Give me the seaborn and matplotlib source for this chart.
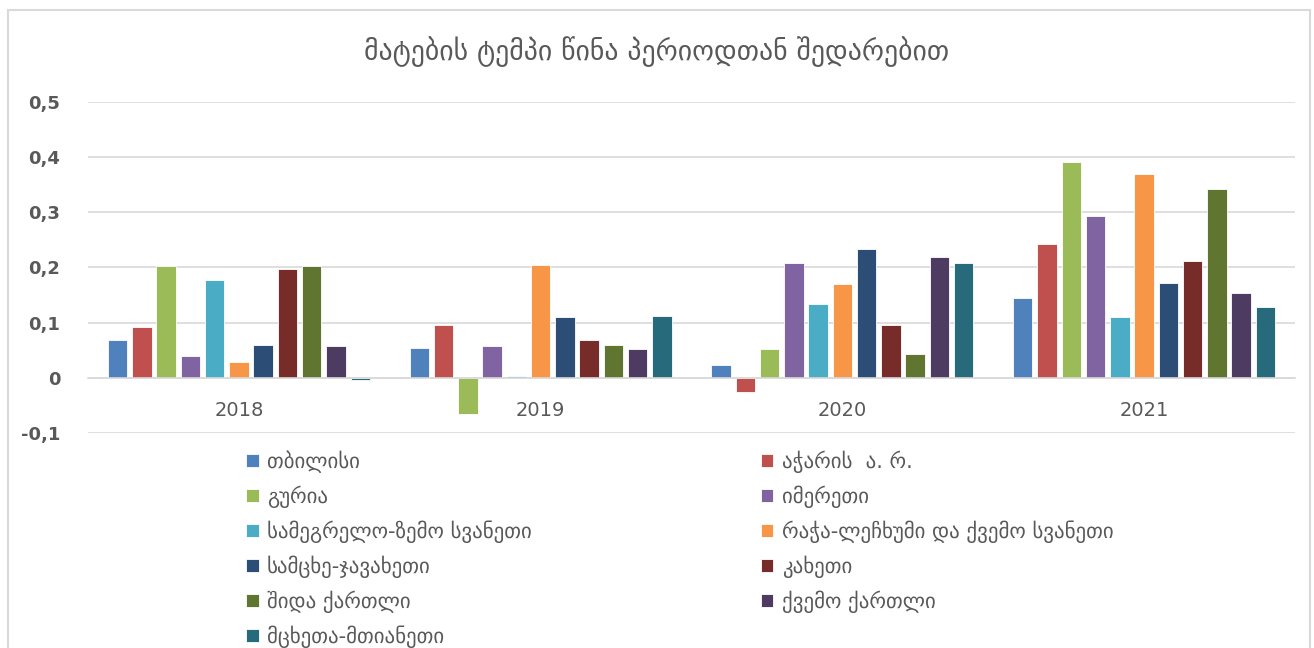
import pandas as pd
import matplotlib.pyplot as plt
import seaborn as sns
from matplotlib.patches import Rectangle

# Data
years = ["2018", "2019", "2020", "2021"]
regions = [
    "თბილისი",
    "აჭარის  ა. რ.",
    "გურია",
    "იმერეთი",
    "სამეგრელო-ზემო სვანეთი",
    "რაჭა-ლეჩხუმი და ქვემო სვანეთი",
    "სამცხე-ჯავახეთი",
    "კახეთი",
    "შიდა ქართლი",
    "ქვემო ქართლი",
    "მცხეთა-მთიანეთი",
]
values = {
    "თბილისი": [0.068, 0.054, 0.024, 0.144],
    "აჭარის  ა. რ.": [0.093, 0.095, -0.025, 0.242],
    "გურია": [0.202, -0.066, 0.052, 0.392],
    "იმერეთი": [0.039, 0.058, 0.208, 0.293],
    "სამეგრელო-ზემო სვანეთი": [0.177, 0.004, 0.134, 0.110],
    "რაჭა-ლეჩხუმი და ქვემო სვანეთი": [0.028, 0.205, 0.170, 0.370],
    "სამცხე-ჯავახეთი": [0.059, 0.110, 0.234, 0.172],
    "კახეთი": [0.198, 0.068, 0.095, 0.212],
    "შიდა ქართლი": [0.202, 0.060, 0.043, 0.342],
    "ქვემო ქართლი": [0.058, 0.052, 0.219, 0.153],
    "მცხეთა-მთიანეთი": [-0.004, 0.112, 0.208, 0.128],
}
colors = ["#4F81BD", "#C0504D", "#9BBB59", "#8064A2", "#4BACC6", "#F79646",
          "#2C4D75", "#772C2A", "#5F7530", "#4D3B62", "#276A7C"]
title = "მატების ტემპი წინა პერიოდთან შედარებით"
ytick_values = [-0.1, 0, 0.1, 0.2, 0.3, 0.4, 0.5]
ytick_labels = ["-0,1", "0", "0,1", "0,2", "0,3", "0,4", "0,5"]

rows = []
for region in regions:
    for year, v in zip(years, values[region]):
        rows.append({"year": year, "region": region, "value": v})
df = pd.DataFrame(rows)

sns.set_style("white")
plt.rcParams["font.family"] = ["DejaVu Sans"]

fig = plt.figure(figsize=(13.14, 6.48), dpi=100)
ax = fig.add_axes([0.067, 0.3318, 0.9185, 0.5108])

sns.barplot(data=df, x="year", y="value", hue="region", order=years,
            hue_order=regions, palette=colors, saturation=1, width=0.885,
            gap=0.2, edgecolor="white", linewidth=0.6, ax=ax, legend=True)

ax.set_ylim(-0.1, 0.5)
ax.set_xlim(-0.5, 3.5)
ax.set_yticks(ytick_values)
ax.set_yticklabels(ytick_labels, fontsize=13, fontweight="bold", color="#595959")
ax.tick_params(axis="y", length=0, pad=20)
ax.tick_params(axis="x", length=0, labelsize=14, labelcolor="#595959", pad=17)
ax.yaxis.grid(True, color="#D9D9D9", linewidth=1.2)
ax.set_axisbelow(True)
ax.set_xlabel("")
ax.set_ylabel("")
for side in ["top", "left", "right"]:
    ax.spines[side].set_visible(False)
ax.spines["bottom"].set_position(("data", 0))
ax.spines["bottom"].set_color("#D9D9D9")
ax.spines["bottom"].set_linewidth(1.2)

fig.text(0.5, 0.92, title, ha="center", va="center", fontsize=20, color="#595959")

handles, labels = ax.get_legend_handles_labels()
ax.get_legend().remove()
order = list(range(0, len(regions), 2)) + list(range(1, len(regions), 2))
fig.legend([handles[i] for i in order], [labels[i] for i in order],
           ncol=2, loc="upper left", bbox_to_anchor=(0.173, 0.334),
           frameon=False, fontsize=15, labelcolor="#595959",
           handlelength=0.6, handleheight=0.6, handletextpad=0.4,
           labelspacing=0.6, columnspacing=11)

# light chart-area border
fig.patches.append(Rectangle((8 / 1314, -0.1), 1 - 12 / 1314, 1.1 - 10 / 648,
                             transform=fig.transFigure, fill=False,
                             edgecolor="#D9D9D9", linewidth=1.5))

fig.savefig("out.png", dpi=100)
